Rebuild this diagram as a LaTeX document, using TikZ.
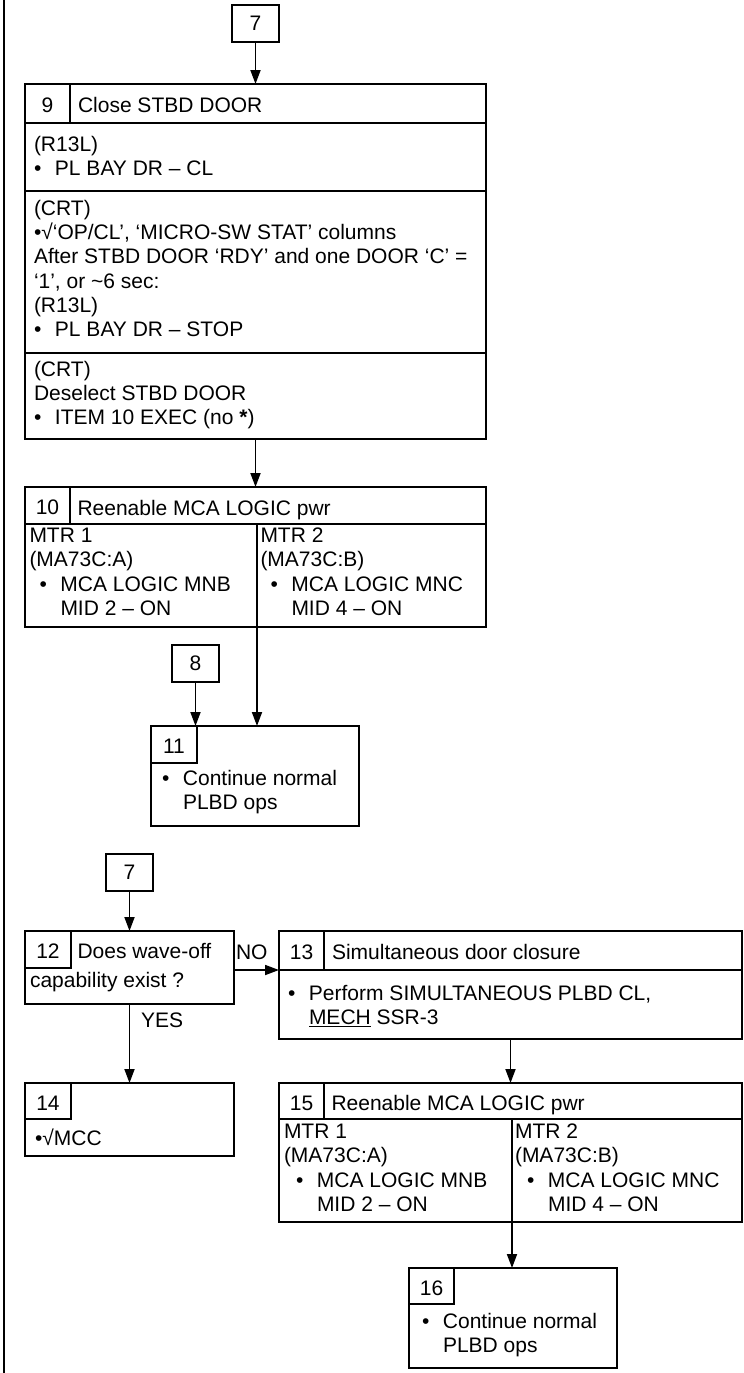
\documentclass[tikz,border=0pt]{standalone}
\usepackage{fontspec}
\setmainfont{Liberation Sans}
\usetikzlibrary{positioning, arrows.meta}

\newcommand{\boxfont}{\fontsize{21pt}{24.3pt}\selectfont}
\newcommand{\bul}{\makebox[21pt][l]{\textbullet}}
\newcommand{\ind}{\hspace*{21pt}}

\begin{document}
\begin{tikzpicture}[x=1pt, y=-1pt, >={Triangle[length=14pt, width=10pt]},
    frame/.style={draw, line width=2pt, inner sep=0pt, outer sep=0pt},
    numcell/.style={draw, line width=1.5pt, inner sep=0pt, outer sep=0pt,
                    anchor=north west, minimum width=46pt, font=\boxfont,
                    text height=18pt, text depth=0pt},
    refbox/.style={draw, line width=1.8pt, inner sep=0pt, outer sep=0pt,
                   minimum width=47pt, minimum height=37pt, font=\boxfont},
    txt/.style={anchor=north west, inner sep=0pt, outer sep=0pt, align=left,
                font=\boxfont, yshift=17pt, execute at begin node=\strut},
    flow/.style={->, line width=1.8pt}]

  \useasboundingbox (0,0) rectangle (744,1373);
  \draw[line width=2pt] (3.8,0) -- (3.8,1373);

  % upper branch
  \node[refbox, anchor=north west] (r7a) at (232,5) {7};

  \node[frame, anchor=north west, minimum width=461pt, minimum height=39pt] (h9) at (25,84) {};
  \node[frame, minimum width=461pt, minimum height=68pt, below=0pt of h9] (s9a) {};
  \node[frame, minimum width=461pt, minimum height=162pt, below=0pt of s9a] (s9b) {};
  \node[frame, minimum width=461pt, minimum height=86pt, below=0pt of s9b] (s9c) {};
  \node[numcell, minimum width=45pt, minimum height=39pt] (n9) at (h9.north west) {9};
  \node[txt] (t9) at (78,112) {Close STBD DOOR};
  \node[txt] (t9a) at (34,153) {(R13L)\\\bul PL BAY DR – CL};
  \node[txt] (t9b) at (34,217) {(CRT)\\\textbullet√‘OP/CL’, ‘MICRO-SW STAT’ columns\\After STBD DOOR ‘RDY’ and one DOOR ‘C’ =\\‘1’, or \textasciitilde6 sec:\\(R13L)\\\bul PL BAY DR – STOP};
  \node[txt] (t9c) at (34,378) {(CRT)\\Deselect STBD DOOR\\\bul ITEM 10 EXEC (no \textbf{*})};

  \node[frame, anchor=north west, minimum width=461pt, minimum height=37pt] (h10) at (25,487) {};
  \node[frame, minimum width=232pt, minimum height=103pt, below right=0pt of h10.south west] (c10a) {};
  \node[frame, minimum width=229pt, minimum height=103pt, right=0pt of c10a] (c10b) {};
  \node[numcell, minimum width=45pt, minimum height=37pt] (n10) at (h10.north west) {10};
  \node[txt] (t10) at (77.5,515) {Reenable MCA LOGIC pwr};
  \node[txt] (t10a) at (29.5,545) {MTR 1\\(MA73C:A)\\\hspace*{10pt}\bul MCA LOGIC MNB\\\hspace*{10pt}\ind MID 2 – ON};
  \node[txt] (t10b) at (260.5,545) {MTR 2\\(MA73C:B)\\\hspace*{10pt}\bul MCA LOGIC MNC\\\hspace*{10pt}\ind MID 4 – ON};

  \node[refbox, anchor=north west] (r8) at (172,645) {8};

  \node[frame, anchor=north west, minimum width=208pt, minimum height=100pt] (b11) at (151,726) {};
  \node[numcell, minimum height=37pt] (n11) at (b11.north west) {11};
  \node[txt] (t11) at (162,787) {\bul Continue normal\\\ind PLBD ops};

  % lower branch
  \node[refbox, anchor=north west] (r7b) at (106,854) {7};

  \node[frame, anchor=north west, minimum width=209pt, minimum height=73pt] (b12) at (25,931) {};
  \node[numcell, minimum height=37pt] (n12) at (b12.north west) {12};
  \node[txt] (t12) at (77.5,958) {Does wave-off};
  \node[txt] (t12b) at (30,987) {capability exist ?};

  \node[frame, anchor=north west, minimum width=463pt, minimum height=39pt] (h13) at (279,931) {};
  \node[frame, minimum width=463pt, minimum height=69pt, below=0pt of h13] (s13) {};
  \node[numcell, minimum width=45pt, minimum height=39pt] (n13) at (h13.north west) {13};
  \node[txt] (t13) at (332,959) {Simultaneous door closure};
  \node[txt] (t13a) at (288,1002) {\bul Perform SIMULTANEOUS PLBD CL,\\\ind\underline{MECH} SSR-3};

  \node[frame, anchor=north west, minimum width=209pt, minimum height=73pt] (b14) at (25,1083) {};
  \node[numcell, minimum height=36pt] (n14) at (b14.north west) {14};
  \node[txt] (t14) at (35,1145) {\textbullet√MCC};

  \node[frame, anchor=north west, minimum width=463pt, minimum height=36pt] (h15) at (279,1083) {};
  \node[frame, minimum width=233pt, minimum height=103pt, below right=0pt of h15.south west] (c15a) {};
  \node[frame, minimum width=230pt, minimum height=103pt, right=0pt of c15a] (c15b) {};
  \node[numcell, minimum width=45pt, minimum height=36pt] (n15) at (h15.north west) {15};
  \node[txt] (t15) at (331.5,1110) {Reenable MCA LOGIC pwr};
  \node[txt] (t15a) at (284,1141) {MTR 1\\(MA73C:A)\\\hspace*{12pt}\bul MCA LOGIC MNB\\\hspace*{12pt}\ind MID 2 – ON};
  \node[txt] (t15b) at (515,1141) {MTR 2\\(MA73C:B)\\\hspace*{12pt}\bul MCA LOGIC MNC\\\hspace*{12pt}\ind MID 4 – ON};

  \node[frame, anchor=north west, minimum width=208pt, minimum height=100pt] (b16) at (409,1268) {};
  \node[numcell, minimum width=45pt, minimum height=36pt] (n16) at (b16.north west) {16};
  \node[txt] (t16) at (422,1330) {\bul Continue normal\\\ind PLBD ops};

  \node[txt] (no) at (236,959) {NO};
  \node[txt] (yes) at (141,1027) {YES};

  % connectors
  \draw[flow] (r7a.south) -- (r7a.south |- h9.north);
  \draw[flow] (s9c.south) -- (h10.north);
  \draw[flow] (c10a.south east) -- (c10a.south east |- b11.north);
  \draw[flow] (r8.south) -- (r8.south |- b11.north);
  \draw[flow] (r7b.south) -- (r7b.south |- b12.north);
  \draw[flow] (b12.east |- h13.south) -- (h13.south west);
  \draw[flow] (r7b.south |- b12.south) -- (r7b.south |- b14.north);
  \draw[flow] (s13.south) -- (h15.north);
  \draw[flow] (c15a.south east) -- (c15a.south east |- b16.north);
\end{tikzpicture}
\end{document}
